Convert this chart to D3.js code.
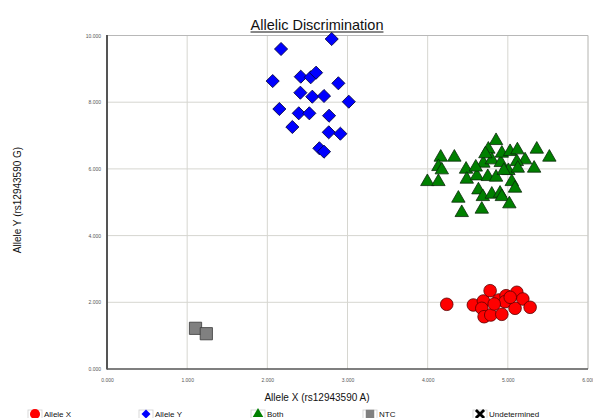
<!DOCTYPE html>
<html>
<head>
<meta charset="utf-8">
<script src="https://cdn.jsdelivr.net/npm/d3@7"></script>
<style>
  html, body { margin: 0; padding: 0; background: #fff; }
  svg { display: block; font-family: "Liberation Sans", Arial, sans-serif; }
</style>
</head>
<body>
<svg id="chart" width="593" height="418"></svg>
<script>
// Allele signal intensities per called genotype (x = allele A, y = allele G)
const alleleX = [
  [4.238, 1.940], [4.570, 1.919], [4.695, 2.039], [4.779, 2.348], [4.675, 1.820],
  [4.704, 1.568], [4.787, 1.619], [4.887, 2.069], [4.925, 1.640], [4.978, 2.198],
  [4.966, 2.018], [5.112, 2.300], [5.187, 2.099], [5.090, 1.820], [5.278, 1.850],
  [4.830, 1.950], [5.030, 2.150]
];
const alleleY = [
  [2.803, 9.895], [2.171, 9.595], [2.067, 8.634], [2.417, 8.765], [2.541, 8.747],
  [2.608, 8.885], [2.886, 8.567], [2.412, 8.285], [2.561, 8.165], [2.707, 8.186],
  [3.016, 8.015], [2.150, 7.796], [2.392, 7.667], [2.524, 7.667], [2.770, 7.595],
  [2.312, 7.256], [2.766, 7.097], [2.911, 7.055], [2.649, 6.618], [2.707, 6.516]
];
const both = [
  [4.853, 6.846], [4.757, 6.588], [4.163, 6.348], [4.333, 6.348], [4.134, 6.066],
  [4.176, 5.967], [3.996, 5.616], [4.134, 5.616], [4.479, 5.988], [4.488, 5.688],
  [4.613, 5.787], [4.750, 5.766], [4.853, 5.748], [4.695, 6.168], [4.800, 6.267],
  [4.912, 6.186], [4.925, 6.468], [5.028, 6.516], [5.119, 6.567], [5.215, 6.267],
  [5.112, 6.216], [5.007, 5.946], [5.124, 6.018], [5.328, 6.018], [5.361, 6.588],
  [5.518, 6.348], [5.049, 5.616], [5.090, 5.418], [4.633, 5.367], [4.688, 5.166],
  [4.800, 5.238], [4.903, 5.268], [4.925, 5.166], [4.383, 5.118], [5.019, 4.948],
  [4.675, 4.789], [4.425, 4.687], [4.720, 6.450], [4.600, 6.050], [4.950, 5.950]
];
const ntc = [[1.104, 1.220], [1.239, 1.058]];
const undetermined = [];

const xTicks = [0, 1, 2, 3, 4, 5, 6];
const yTicks = [0, 2, 4, 6, 8, 10];
const legendLabels = ["Allele X", "Allele Y", "Both", "NTC", "Undetermined"];

const svg = d3.select("#chart");
const x = d3.scaleLinear().domain([0, 6]).range([107, 588]);
const y = d3.scaleLinear().domain([0, 10]).range([369, 35.5]);
const fmt = d3.format(".3f");

// gridlines
const grid = svg.append("g");
grid.selectAll(".gx").data(xTicks.slice(1)).join("line")
  .attr("x1", d => x(d)).attr("x2", d => x(d))
  .attr("y1", y(10)).attr("y2", y(0))
  .attr("stroke", "#d6d6d0").attr("stroke-width", 1);
grid.selectAll(".gy").data(yTicks.slice(1)).join("line")
  .attr("x1", x(0)).attr("x2", x(6))
  .attr("y1", d => y(d)).attr("y2", d => y(d))
  .attr("stroke", "#d6d6d0").attr("stroke-width", 1);

// axes via d3 axis generators, restyled
const xAxis = svg.append("g").attr("transform", `translate(0,${y(0)})`)
  .call(d3.axisBottom(x).tickValues(xTicks).tickFormat(fmt).tickSize(0).tickPadding(9));
const yAxis = svg.append("g").attr("transform", `translate(${x(0)},0)`)
  .call(d3.axisLeft(y).tickValues(yTicks).tickFormat(fmt).tickSize(0).tickPadding(6));
[xAxis, yAxis].forEach(g => {
  g.select(".domain").remove();
  g.selectAll("text").attr("font-size", 5).attr("fill", "#555")
    .attr("font-family", "Liberation Sans, Arial, sans-serif");
});

// frame
svg.append("line").attr("x1", x(6)).attr("x2", x(6)).attr("y1", y(10)).attr("y2", y(0))
  .attr("stroke", "#c8c8c8");
svg.append("line").attr("x1", x(0)).attr("x2", x(6)).attr("y1", y(10)).attr("y2", y(10))
  .attr("stroke", "#b8b8b8");
svg.append("line").attr("x1", x(0)).attr("x2", x(6)).attr("y1", y(0)).attr("y2", y(0))
  .attr("stroke", "#555").attr("stroke-width", 1.5);
svg.append("line").attr("x1", x(0)).attr("x2", x(0)).attr("y1", y(10) - 0.5).attr("y2", y(0) + 0.5)
  .attr("stroke", "#555").attr("stroke-width", 2);

// marker shapes
const shapes = {
  circle: d3.symbol().type(d3.symbolCircle).size(125),
  diamond: d3.symbol().type(d3.symbolSquare).size(86),
  triangle: d3.symbol().type(d3.symbolTriangle).size(78),
  square: d3.symbol().type(d3.symbolSquare).size(150),
  cross: d3.symbol().type(d3.symbolX).size(60)
};

function drawSeries(data, shape, fill, stroke, rotate) {
  svg.append("g").selectAll("path").data(data).join("path")
    .attr("d", shape)
    .attr("transform", d => `translate(${x(d[0])},${y(d[1])})` + (rotate ? " rotate(45)" : ""))
    .attr("fill", fill).attr("stroke", stroke).attr("stroke-width", 0.8);
}

drawSeries(ntc, shapes.square, "#808080", "#3a3a3a", false);
drawSeries(alleleY, shapes.diamond, "#0000ff", "#00003a", true);
drawSeries(both, shapes.triangle, "#008000", "#0a2a0a", false);
drawSeries(alleleX, shapes.circle, "#ff0000", "#5a0000", false);
drawSeries(undetermined, shapes.cross, "#000", "#000", false);

// titles
const title = svg.append("text").attr("x", 317).attr("y", 29.5)
  .attr("text-anchor", "middle").attr("font-size", 14.5).attr("fill", "#111")
  .text("Allelic Discrimination");
const tb = title.node().getBBox();
svg.append("line").attr("x1", tb.x).attr("x2", tb.x + tb.width)
  .attr("y1", 32).attr("y2", 32).attr("stroke", "#111").attr("stroke-width", 1);

svg.append("text").attr("x", 317).attr("y", 401)
  .attr("text-anchor", "middle").attr("font-size", 10).attr("fill", "#111")
  .text("Allele X (rs12943590 A)");

svg.append("text").attr("transform", "translate(21,200) rotate(-90)")
  .attr("text-anchor", "middle").attr("font-size", 10).attr("fill", "#111")
  .text("Allele Y (rs12943590 G)");

// legend
const legendX = [35, 146, 258, 370, 480];
const legendShapes = [
  { s: d3.symbol().type(d3.symbolCircle).size(80), fill: "#ff0000", rot: false },
  { s: d3.symbol().type(d3.symbolSquare).size(40), fill: "#0000ff", rot: true },
  { s: d3.symbol().type(d3.symbolTriangle).size(48), fill: "#008000", rot: false },
  { s: d3.symbol().type(d3.symbolSquare).size(72), fill: "#808080", rot: false },
  { s: d3.symbol().type(d3.symbolX).size(45), fill: "#000", rot: false }
];
const lg = svg.append("g").selectAll("g").data(legendLabels).join("g")
  .attr("transform", (d, i) => `translate(${legendX[i]},414)`);
lg.append("rect").attr("x", -7).attr("y", -4).attr("width", 14).attr("height", 12)
  .attr("fill", "#fff").attr("stroke", "#cfcfcf").attr("stroke-width", 0.8);
lg.append("path")
  .attr("d", (d, i) => legendShapes[i].s())
  .attr("transform", (d, i) => legendShapes[i].rot ? "rotate(45)" : null)
  .attr("fill", (d, i) => legendShapes[i].fill)
  .attr("stroke", (d, i) => i === 4 ? "#000" : "none")
  .attr("stroke-width", (d, i) => i === 4 ? 2.8 : 0);
lg.append("text").attr("x", 9).attr("y", 3).attr("font-size", 8).attr("fill", "#111")
  .text(d => d);
</script>
</body>
</html>
